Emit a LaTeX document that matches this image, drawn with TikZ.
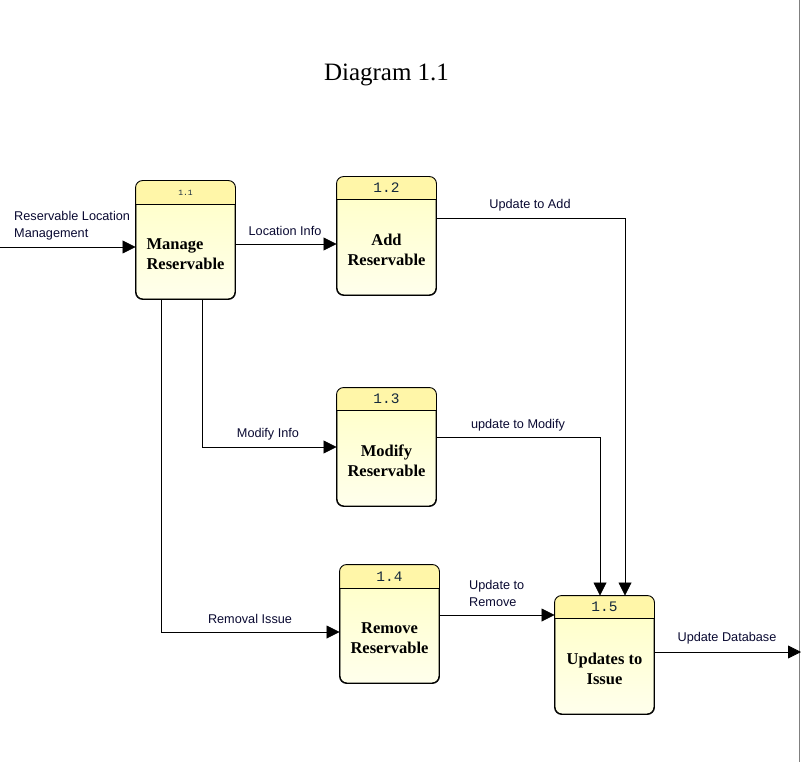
\documentclass[tikz,border=0pt]{standalone}
\usepackage{fontspec}
\setmainfont{Liberation Serif}
\newfontfamily\lblfont{Liberation Sans}
\newfontfamily\numfont{Liberation Mono}
\usetikzlibrary{arrows.meta}
\definecolor{hdrfill}{RGB}{255,246,168}
\definecolor{bodytop}{RGB}{255,255,196}
\definecolor{bodybot}{RGB}{255,255,236}
\definecolor{lbltext}{RGB}{10,10,50}
\definecolor{numtext}{RGB}{20,40,60}
\tikzset{
  procbox/.style={draw=black, line width=0.9pt, rounded corners=7pt,
    minimum width=99pt, minimum height=118pt, inner sep=0pt,
    top color=bodytop, bottom color=bodybot},
  proctext/.style={font=\fontsize{16.5}{20}\selectfont\bfseries, align=center, text=black},
  numtxt/.style={font=\fontsize{14.5}{16}\selectfont\numfont, text=numtext},
  flow/.style={draw=black, line width=0.8pt, -{Triangle[length=13pt,width=13pt]}},
  lbl/.style={font=\fontsize{12.7}{17}\selectfont\lblfont, text=lbltext, inner sep=0pt},
}
\newcommand\mkproc[7][]{% [text opts] name, cx, cy, header offset, number, text
  \node[procbox] (#2) at (#3,#4) {};
  \begin{scope}
    \clip[rounded corners=7pt] (#2.north west) rectangle (#2.south east);
    \fill[hdrfill] (#2.north west) rectangle ([yshift=-#5pt]#2.north east);
  \end{scope}
  \draw[black, line width=0.9pt, rounded corners=7pt] (#2.north west) rectangle (#2.south east);
  \draw[black, line width=0.8pt] ([yshift=-#5pt]#2.north west) -- ([yshift=-#5pt]#2.north east);
  \node[numtxt] (#2num) at ([yshift=-#5/2 pt]#2.north) {#6};
  \node[proctext,#1] (#2txt) at ([yshift=-#5/2 pt - 2pt]#2.center) {#7};
}
\begin{document}
\begin{tikzpicture}[x=1pt, y=-1pt]
\useasboundingbox (0,0) rectangle (801,762);
\fill[white] (0,0) rectangle (801,762);
\coordinate (rtop) at (799.5,0);
\coordinate (rbot) at (799.5,762);
\draw[gray, line width=1.2pt] (rtop) -- (rbot);

\node[font=\fontsize{25}{28}\selectfont, text=black] (title) at (386.5,75) {Diagram 1.1};

\mkproc[align=left]{p11}{185.5}{240}{24}{\fontsize{8}{9}\selectfont 1.1}{Manage\\Reservable}
\mkproc{p12}{386.5}{236}{23}{1.2}{Add\\Reservable}
\mkproc{p13}{386.5}{447}{23}{1.3}{Modify\\Reservable}
\mkproc{p14}{389.5}{624}{24}{1.4}{Remove\\Reservable}
\mkproc{p15}{604.5}{655}{23}{1.5}{Updates to\\Issue}

\coordinate (src) at (0,247);
\coordinate (sink) at (801,652);

\draw[flow] (src) -- (src -| p11.west);
\draw[flow] ([yshift=-4pt]p11.east) -- ([yshift=-4pt]p11.east -| p12.west);
\draw[flow] ([xshift=16.5pt]p11.south) |- (p13.west);
\draw[flow] ([xshift=-24.5pt]p11.south) |- ([yshift=-8pt]p14.west);
\draw[flow] ([yshift=18pt]p12.east) -| ([xshift=20.5pt]p15.north);
\draw[flow] ([yshift=10pt]p13.east) -| ([xshift=-4.5pt]p15.north);
\draw[flow] ([yshift=9pt]p14.east) -- ([yshift=9pt]p14.east -| p15.west);
\draw[flow] ([yshift=3pt]p15.east) -- (sink);

\node[lbl, anchor=west, align=left] (l0) at (14,225.5) {Reservable Location\\Management};
\node[lbl] (l1) at (285,231) {Location Info};
\node[lbl] (l2) at (268,434) {Modify Info};
\node[lbl] (l3) at (250,619) {Removal Issue};
\node[lbl] (l4) at (530,205) {Update to Add};
\node[lbl] (l5) at (518,425) {update to Modify};
\node[lbl, anchor=west, align=left] (l6) at (469,593.5) {Update to\\Remove};
\node[lbl] (l7) at (727,638) {Update Database};
\end{tikzpicture}
\end{document}
